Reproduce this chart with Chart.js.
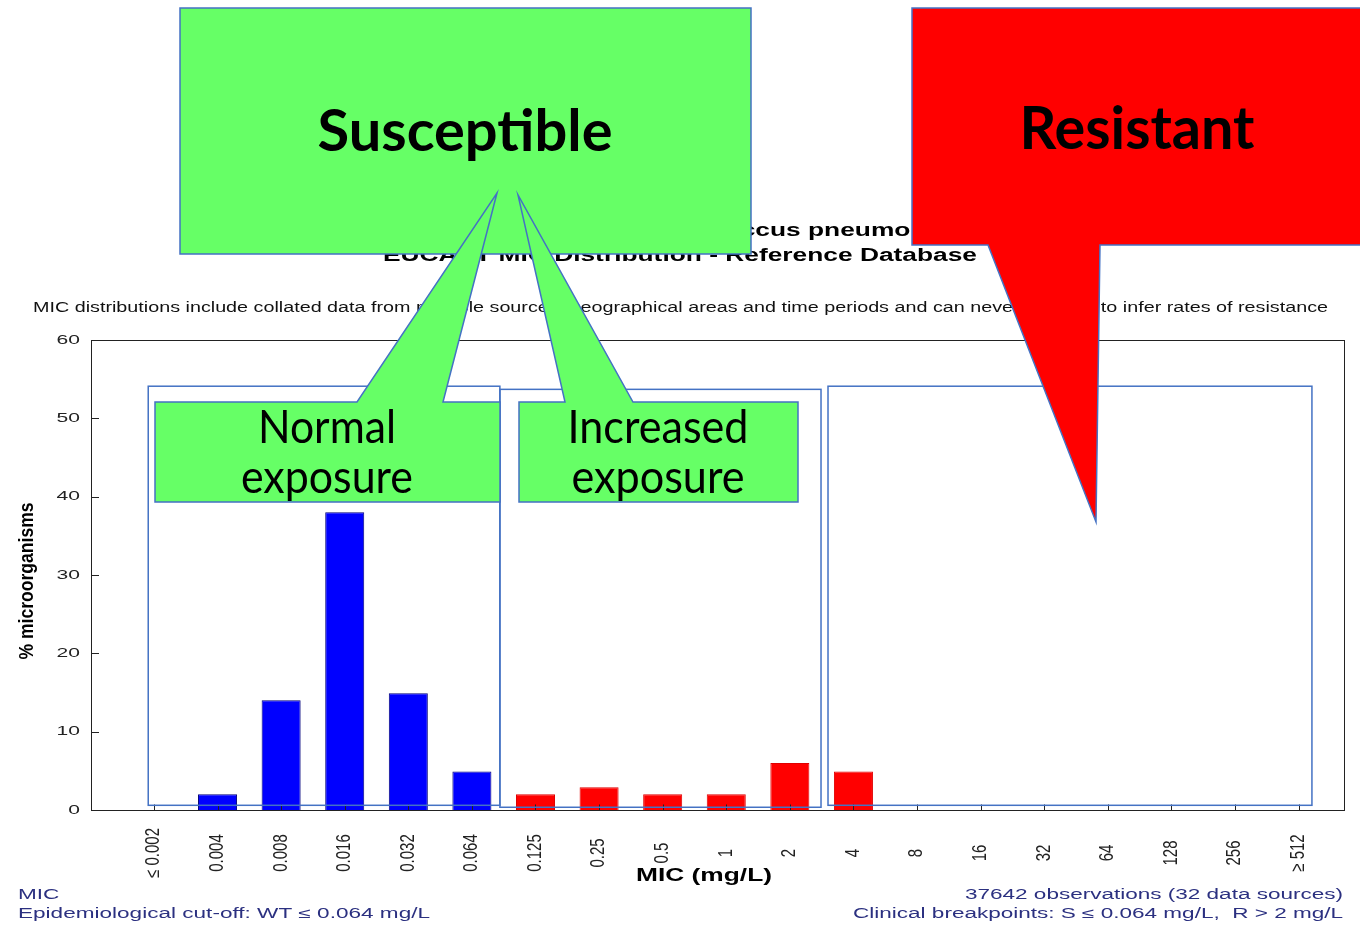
<!DOCTYPE html>
<html>
<head>
<meta charset="utf-8">
<script src="https://cdn.jsdelivr.net/npm/chart.js@4.4.1/dist/chart.umd.min.js"></script>
<style>
  html, body { margin: 0; padding: 0; background: #fff; overflow: hidden; }
  canvas { display: block; }
</style>
</head>
<body>
<canvas id="mic" width="1360" height="927"></canvas>
<script>
// MIC categories (mg/L) and share of isolates in each (%)
const micLabels = ['≤ 0.002', '0.004', '0.008', '0.016', '0.032', '0.064', '0.125', '0.25', '0.5',
                   '1', '2', '4', '8', '16', '32', '64', '128', '256', '≥ 512'];
const percentOrganisms = [0, 2, 14, 38, 14.9, 4.9, 2, 2.9, 2, 2, 6, 4.9, 0, 0, 0, 0, 0, 0, 0];

// y axis ticks
const yTickValues = [0, 10, 20, 30, 40, 50, 60];
const yTickLabels = ['0', '10', '20', '30', '40', '50', '60'];

// clinical breakpoint: S ≤ 0.064 mg/L
const susceptibleBreakpoint = '0.064';

const titleLines = ['Benzylpenicillin / Streptococcus pneumoniae',
                    'EUCAST MIC Distribution - Reference Database'];
const disclaimer = 'MIC distributions include collated data from multiple sources, geographical areas and time periods and can never be used to infer rates of resistance';
const footLeft = ['MIC', 'Epidemiological cut-off: WT ≤ 0.064 mg/L'];
const footRight = ['37642 observations (32 data sources)', 'Clinical breakpoints: S ≤ 0.064 mg/L,  R > 2 mg/L'];
const xTitle = 'MIC (mg/L)';
const yTitle = '% microorganisms';
const labelSusceptible = 'Susceptible';
const labelResistant = 'Resistant';
const labelNormal = ['Normal', 'exposure'];
const labelIncreased = ['Increased', 'exposure'];

const SANS = '"Liberation Sans", Arial, sans-serif';
const CALLOUT = 'Lato, "Open Sans", sans-serif';
const EDGE = '#4472C4';
const GREEN = '#66FF66';

const sIdx = micLabels.indexOf(susceptibleBreakpoint);

// text helpers: horizontal stretch, fit to width, rotated
function drawText(ctx, text, x, y, font, sx, align, color, baseline) {
  ctx.save();
  ctx.font = font;
  ctx.fillStyle = color;
  ctx.textAlign = align;
  ctx.textBaseline = baseline || 'middle';
  ctx.translate(x, y);
  ctx.scale(sx, 1);
  ctx.fillText(text, 0, 0);
  ctx.restore();
}
function fitScale(ctx, text, font, width) {
  ctx.save();
  ctx.font = font;
  const w = ctx.measureText(text).width;
  ctx.restore();
  return width / w;
}
function drawFit(ctx, text, x, y, font, width, align, color, baseline) {
  drawText(ctx, text, x, y, font, fitScale(ctx, text, font, width), align, color, baseline);
}
function drawVertical(ctx, text, x, y, font, thick, along, color) {
  ctx.save();
  ctx.font = font;
  ctx.fillStyle = color;
  ctx.textAlign = 'center';
  ctx.textBaseline = 'middle';
  ctx.translate(x, y);
  ctx.scale(thick, 1);
  ctx.rotate(-Math.PI / 2);
  ctx.scale(along, 1);
  ctx.fillText(text, 0, 0);
  ctx.restore();
}

const overlay = {
  id: 'overlay',
  afterDraw(chart) {
    const { ctx, chartArea: a, scales: { x, y } } = chart;

    // plot frame
    ctx.save();
    ctx.strokeStyle = '#222';
    ctx.lineWidth = 1;
    ctx.strokeRect(Math.round(a.left) + 0.5, Math.round(a.top) + 0.5,
                   Math.round(a.right - a.left) - 1, Math.round(a.bottom - a.top));
    // inward tick marks
    ctx.beginPath();
    const y0 = Math.round(y.getPixelForValue(0)) + 0.5;
    micLabels.forEach((_, i) => {
      const px = Math.round(x.getPixelForValue(i)) + 0.5;
      ctx.moveTo(px, y0);
      ctx.lineTo(px, y0 - 6);
    });
    yTickValues.forEach(v => {
      const py = Math.round(y.getPixelForValue(v)) + 0.5;
      ctx.moveTo(a.left, py);
      ctx.lineTo(a.left + 8, py);
    });
    ctx.stroke();
    ctx.restore();

    // y tick labels
    yTickValues.forEach((v, k) => {
      drawText(ctx, yTickLabels[k], a.left - 11, y.getPixelForValue(v), '13px ' + SANS, 1.62, 'right', '#222');
    });
    // x tick labels (vertical)
    micLabels.forEach((lab, i) => {
      drawVertical(ctx, lab, x.getPixelForValue(i), 853, '15px ' + SANS, 1.3, 1.0, '#222');
    });
    // axis titles
    drawFit(ctx, xTitle, 704, 876, 'bold 18px ' + SANS, 136, 'center', '#000');
    ctx.save();
    ctx.font = 'bold 17.5px ' + SANS;
    const yLen = 157 / ctx.measureText(yTitle).width;
    ctx.restore();
    drawVertical(ctx, yTitle, 27, 581, 'bold 17.5px ' + SANS, 1.15, yLen, '#000');

    // chart titles
    const tFont = 'bold 18px ' + SANS;
    const tScale = fitScale(ctx, titleLines[1], tFont, 594);
    drawText(ctx, titleLines[0], 680, 231, tFont, tScale, 'center', '#000');
    drawText(ctx, titleLines[1], 680, 256, tFont, tScale, 'center', '#000');
    drawFit(ctx, disclaimer, 33, 308, '14px ' + SANS, 1295, 'left', '#111');

    // footers
    const fFont = '14px ' + SANS;
    const fScale = fitScale(ctx, footLeft[1], fFont, 412);
    drawText(ctx, footLeft[0], 18, 895, fFont, fScale, 'left', '#2B3080');
    drawText(ctx, footLeft[1], 18, 914, fFont, fScale, 'left', '#2B3080');
    drawFit(ctx, footRight[0], 1343, 895, fFont, 378, 'right', '#2B3080');
    drawFit(ctx, footRight[1], 1343, 914, fFont, 490, 'right', '#2B3080');

    // category range boxes (category index / % units)
    const zones = [
      { from: -0.09, to: 5.44, top: 54.1, bottom: 0.6 },
      { from: 5.44, to: 10.49, top: 53.7, bottom: 0.35 },
      { from: 10.6, to: 18.21, top: 54.1, bottom: 0.6 }
    ];
    ctx.save();
    ctx.strokeStyle = EDGE;
    ctx.lineWidth = 1.5;
    zones.forEach(z => {
      const l = x.getPixelForValue(z.from), r = x.getPixelForValue(z.to);
      const t = y.getPixelForValue(z.top), b = y.getPixelForValue(z.bottom);
      ctx.strokeRect(l, t, r - l, b - t);
    });
    ctx.restore();

    // callouts
    function shape(points, fill) {
      ctx.save();
      ctx.beginPath();
      points.forEach(([px, py], k) => k ? ctx.lineTo(px, py) : ctx.moveTo(px, py));
      ctx.closePath();
      ctx.fillStyle = fill;
      ctx.fill();
      ctx.strokeStyle = EDGE;
      ctx.lineWidth = 1.5;
      ctx.stroke();
      ctx.restore();
    }
    shape([[180, 8], [751, 8], [751, 254], [180, 254]], GREEN);
    shape([[912, 8], [1364, 8], [1364, 245], [1100, 245], [1096, 522], [988, 245], [912, 245]], '#FF0000');
    shape([[155, 402], [357, 402], [497, 193], [443, 402], [500, 402], [500, 502], [155, 502]], GREEN);
    shape([[519, 402], [565, 402], [518, 195], [633, 402], [798, 402], [798, 502], [519, 502]], GREEN);

    drawFit(ctx, labelSusceptible, 465, 151, 'bold 58px ' + CALLOUT, 295, 'center', '#000', 'alphabetic');
    drawFit(ctx, labelResistant, 1137, 149, 'bold 60px ' + CALLOUT, 235, 'center', '#000', 'alphabetic');
    drawFit(ctx, labelNormal[0], 327, 443, '46px ' + CALLOUT, 138, 'center', '#000', 'alphabetic');
    drawFit(ctx, labelNormal[1], 327, 493, '46px ' + CALLOUT, 172, 'center', '#000', 'alphabetic');
    drawFit(ctx, labelIncreased[0], 658, 443, '46px ' + CALLOUT, 181, 'center', '#000', 'alphabetic');
    drawFit(ctx, labelIncreased[1], 658, 493, '46px ' + CALLOUT, 173, 'center', '#000', 'alphabetic');
  }
};

new Chart(document.getElementById('mic'), {
  type: 'bar',
  data: {
    datasets: [{
      data: percentOrganisms.map((v, i) => ({ x: i, y: v })),
      backgroundColor: percentOrganisms.map((_, i) => i <= sIdx ? '#0000FF' : '#FF0000'),
      borderColor: percentOrganisms.map((_, i) => i <= sIdx ? '#00007A' : '#E00000'),
      borderWidth: percentOrganisms.map(v => v > 0 ? 1 : 0),
      barPercentage: 0.62,
      categoryPercentage: 1
    }]
  },
  options: {
    responsive: false,
    animation: false,
    devicePixelRatio: 1,
    layout: { padding: { left: 91, top: 340, right: 15, bottom: 117 } },
    plugins: { legend: { display: false }, tooltip: { enabled: false } },
    scales: {
      x: { type: 'linear', display: false, offset: false, min: -0.99, max: 18.73 },
      y: { display: false, min: 0, max: 60 }
    }
  },
  plugins: [overlay]
});
</script>
</body>
</html>
